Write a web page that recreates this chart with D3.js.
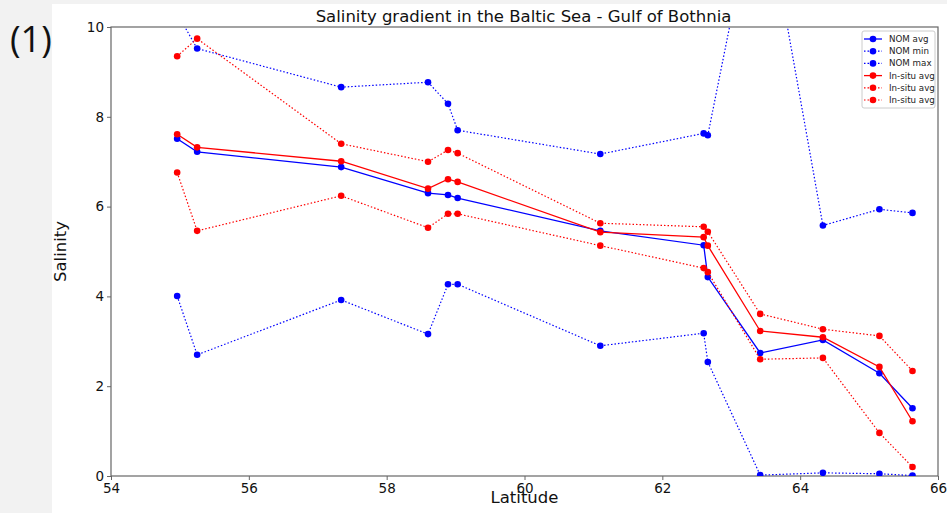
<!DOCTYPE html>
<html>
<head>
<meta charset="utf-8">
<script src="https://cdn.jsdelivr.net/npm/d3@7"></script>
<style>
  body { margin: 0; background: #f2f2f2; }
  svg { display: block; font-family: "DejaVu Sans", sans-serif; }
</style>
</head>
<body>
<svg id="canvas" width="947" height="513"></svg>
<script>
// latitudes of the stations (shared by all series)
const latitudes = [54.96, 55.25, 57.34, 58.60, 58.89, 59.03, 61.10, 62.60, 62.66, 63.42, 64.33, 65.15, 65.63];

const nomAvg = [7.51, 7.22, 6.88, 6.30, 6.26, 6.19, 5.46, 5.14, 4.43, 2.74, 3.03, 2.29, 1.51];
const nomMin = [4.01, 2.70, 3.92, 3.16, 4.27, 4.27, 2.90, 3.18, 2.54, 0.02, 0.07, 0.05, 0.01];
const nomMax = [10.3, 9.52, 8.66, 8.77, 8.29, 7.70, 7.17, 7.63, 7.59, 13.4, 5.58, 5.94, 5.86];
const insituAvg = [7.61, 7.32, 7.01, 6.40, 6.61, 6.55, 5.43, 5.32, 5.13, 3.23, 3.09, 2.43, 1.22];
const insituMin = [6.76, 5.46, 6.24, 5.53, 5.84, 5.84, 5.13, 4.63, 4.54, 2.60, 2.63, 0.96, 0.20];
const insituMax = [9.35, 9.74, 7.40, 7.00, 7.26, 7.19, 5.63, 5.55, 5.44, 3.61, 3.27, 3.12, 2.34];

const xTicks = [54, 56, 58, 60, 62, 64, 66];
const yTicks = [0, 2, 4, 6, 8, 10];

const series = [
  { name: "NOM avg", values: nomAvg, color: "#0000ff", dotted: false },
  { name: "NOM min", values: nomMin, color: "#0000ff", dotted: true },
  { name: "NOM max", values: nomMax, color: "#0000ff", dotted: true },
  { name: "In-situ avg", values: insituAvg, color: "#ff0000", dotted: false },
  { name: "In-situ avg", values: insituMin, color: "#ff0000", dotted: true },
  { name: "In-situ avg", values: insituMax, color: "#ff0000", dotted: true }
];

const svg = d3.select("#canvas");
const M = { left: 111, right: 938, top: 27, bottom: 476 };

var x = d3.scaleLinear().domain([54, 66]).range([M.left, M.right]);
var y = d3.scaleLinear().domain([0, 10]).range([M.bottom, M.top]);

// figure background (notebook-ish screenshot)
svg.append("rect").attr("x", 52).attr("y", 4).attr("width", 895).attr("height", 509).attr("fill", "#fff");

svg.append("text")
  .attr("x", 10).attr("y", 52)
  .style("font-size", "36px")
  .style("font-family", "'Open Sans', sans-serif")
  .attr("fill", "#111")
  .text("(1)");

svg.append("clipPath").attr("id", "plotclip")
  .append("rect")
  .attr("x", M.left).attr("y", M.top)
  .attr("width", M.right - M.left).attr("height", M.bottom - M.top);

// axes
var xAxis = svg.append("g")
  .attr("transform", `translate(0,${M.bottom})`)
  .call(d3.axisBottom(x).tickValues(xTicks).tickFormat(d3.format("d")).tickSize(4).tickPadding(3));
var yAxis = svg.append("g")
  .attr("transform", `translate(${M.left},0)`)
  .call(d3.axisLeft(y).tickValues(yTicks).tickFormat(d3.format("d")).tickSize(4).tickPadding(3));

[xAxis, yAxis].forEach(function (a) {
  a.selectAll("text").style("font-size", "13.5px").attr("fill", "#111").style("font-family", "DejaVu Sans");
  a.selectAll("line").attr("stroke", "#666");
  a.select(".domain").remove();
});

// frame
svg.append("rect")
  .attr("x", M.left).attr("y", M.top)
  .attr("width", M.right - M.left).attr("height", M.bottom - M.top)
  .attr("fill", "none").attr("stroke", "#666").attr("stroke-width", 1.2);

var plot = svg.append("g").attr("clip-path", "url(#plotclip)");

var line = d3.line()
  .x((d, i) => x(latitudes[i]))
  .y(d => y(d));

series.forEach(function (s) {
  plot.append("path")
    .datum(s.values)
    .attr("d", line)
    .attr("fill", "none")
    .attr("stroke", s.color)
    .attr("stroke-width", s.dotted ? 1.2 : 1.3)
    .attr("stroke-dasharray", s.dotted ? "1.5,2" : null);

  plot.selectAll(null)
    .data(s.values)
    .enter().append("circle")
    .attr("cx", (d, i) => x(latitudes[i]))
    .attr("cy", d => y(d))
    .attr("r", 3.3)
    .attr("fill", s.color);
});

// title and labels
svg.append("text")
  .attr("x", (M.left + M.right) / 2 - 1).attr("y", 22)
  .attr("text-anchor", "middle")
  .style("font-size", "16.5px")
  .attr("fill", "#111")
  .text("Salinity gradient in the Baltic Sea - Gulf of Bothnia");

svg.append("text")
  .attr("x", (M.left + M.right) / 2).attr("y", 503)
  .attr("text-anchor", "middle")
  .style("font-size", "16.5px")
  .attr("fill", "#111")
  .text("Latitude");

svg.append("text")
  .attr("transform", `translate(66,${(M.top + M.bottom) / 2}) rotate(-90)`)
  .attr("text-anchor", "middle")
  .style("font-size", "16.5px")
  .attr("fill", "#111")
  .text("Salinity");

// legend
var legend = svg.append("g").attr("transform", "translate(862,31)");
legend.append("rect")
  .attr("width", 73).attr("height", 77)
  .attr("fill", "#fff").attr("stroke", "#ccc").attr("rx", 2);

series.forEach(function (s, i) {
  var ly = 8 + i * 12.2;
  legend.append("line")
    .attr("x1", 2).attr("x2", 20)
    .attr("y1", ly).attr("y2", ly)
    .attr("stroke", s.color)
    .attr("stroke-width", s.dotted ? 1.2 : 1.3)
    .attr("stroke-dasharray", s.dotted ? "1.5,2" : null);
  legend.append("circle")
    .attr("cx", 11).attr("cy", ly).attr("r", 3.3)
    .attr("fill", s.color);
  legend.append("text")
    .attr("x", 27).attr("y", ly + 3)
    .style("font-size", "8.7px")
    .attr("fill", "#222")
    .text(s.name);
});
</script>
</body>
</html>
